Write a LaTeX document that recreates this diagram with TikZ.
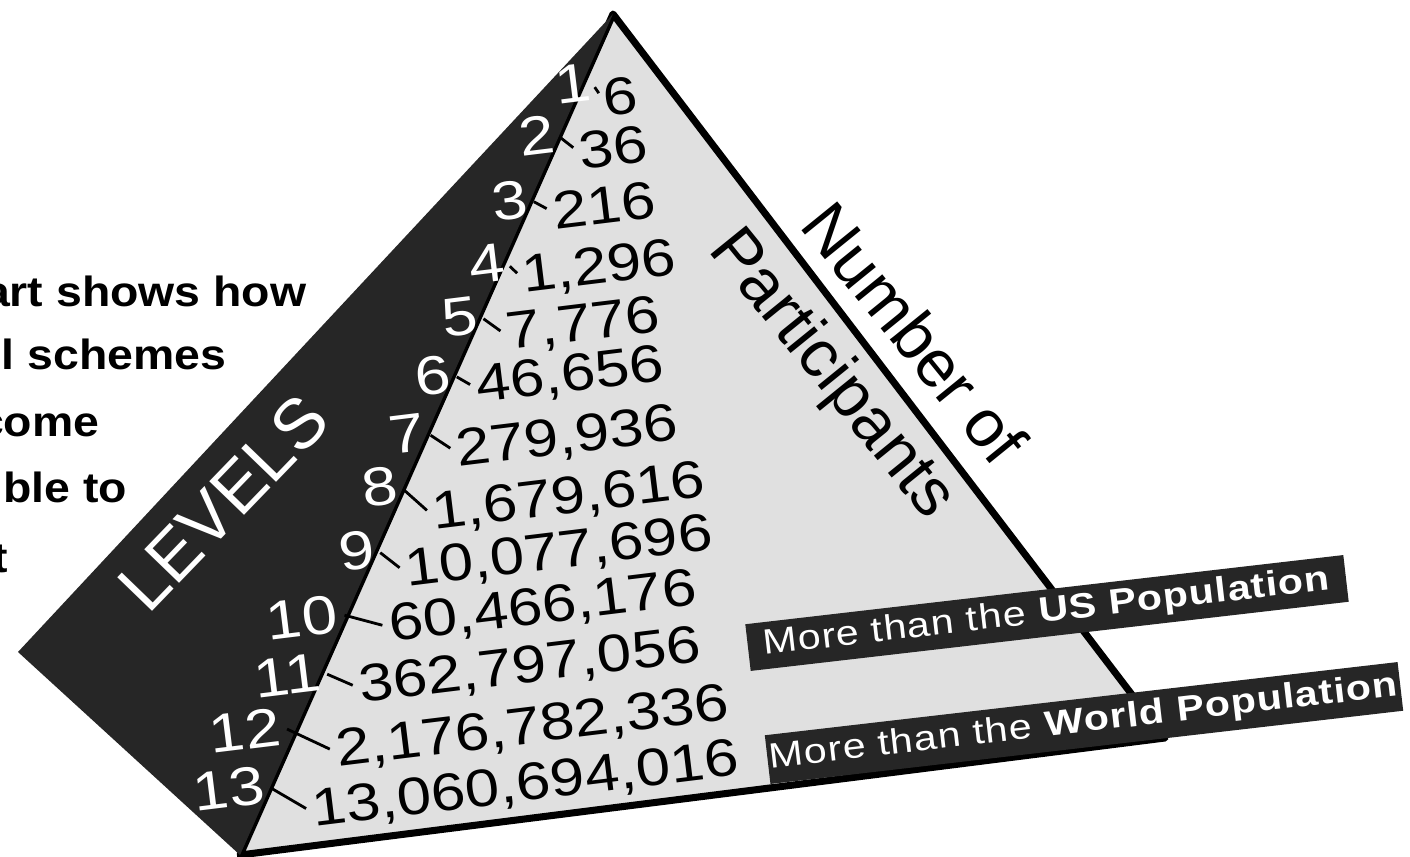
\documentclass[tikz,border=0pt]{standalone}
\usepackage{fontspec}
\setmainfont{Liberation Sans}
\newfontfamily\widefont{Liberation Sans}[FakeStretch=1.17]
\newfontfamily\notefont{Liberation Sans}[FakeStretch=1.1]
\newfontfamily\barfont{Liberation Sans}[FakeStretch=1.17, LetterSpace=3]
\usetikzlibrary{calc}
\definecolor{facedark}{gray}{0.15}
\definecolor{facelight}{gray}{0.88}

\begin{document}
\begin{tikzpicture}[
    x=0.1mm, y=-0.1mm,
    lvnum/.style={text=white, font=\widefont\fontsize{15.5}{18}\selectfont, rotate=7, anchor=base east, inner sep=0pt},
    partnum/.style={font=\widefont\fontsize{15}{18}\selectfont, rotate=7, anchor=base west, inner sep=0pt},
    tickline/.style={line width=0.8pt, shorten <=2pt, shorten >=2pt},
    banner/.style={fill=facedark, text=white, rotate=6.6, inner sep=0pt, font=\barfont\fontsize{10}{12}\selectfont},
    blurb/.style={font=\notefont\bfseries\fontsize{12}{14}\selectfont, anchor=base east, inner sep=0pt},
    axislabel/.style={font=\fontsize{19}{22}\selectfont, rotate=-51, inner sep=0pt}
]
\useasboundingbox (0,0) rectangle (1410,857);
\clip (0,0) rectangle (1410,857);
\fill[white] (0,0) rectangle (1410,857);

% caption text, cut off at the left edge
\node[blurb] (line1) at (307,307) {art shows how};
\node[blurb] (line2) at (227,370) {l schemes};
\node[blurb] (line3) at (100,437) {come};
\node[blurb] (line4) at (128,503) {ible to};
\node[blurb] (line5) at (9,572) {t};

% pyramid faces
\coordinate (apex) at (613,14);
\coordinate (lcorner) at (18,652);
\coordinate (foot) at (240,855);
\coordinate (rcorner) at (1165,738);
\filldraw[fill=facelight, line width=2pt, line join=round] (apex) -- (foot) -- (rcorner) -- cycle;
\fill[facedark] (apex) -- (lcorner) -- (foot) -- cycle;

\node[text=white, font=\fontsize{20}{24}\selectfont, rotate=46] (levels) at (223,503) {LEVELS};
\node[axislabel] (numof) at (915,333) {Number of};
\node[axislabel] (parts) at (831,375) {Participants};

% level numbers
\node[lvnum] (lv1) at (593,100) {1};
\node[lvnum] (lv2) at (557,152) {2};
\node[lvnum] (lv3) at (530,217) {3};
\node[lvnum] (lv4) at (507,280) {4};
\node[lvnum] (lv5) at (480,333) {5};
\node[lvnum] (lv6) at (453,392) {6};
\node[lvnum] (lv7) at (427,450) {7};
\node[lvnum] (lv8) at (400,503) {8};
\node[lvnum] (lv9) at (377,567) {9};
\node[lvnum] (lv10) at (340,632) {10};
\node[lvnum] (lv11) at (323,690) {11};
\node[lvnum] (lv12) at (283,745) {12};
\node[lvnum] (lv13) at (267,803) {13};

% participants per level
\node[partnum] (n1) at (605,117) {6};
\node[partnum] (n2) at (581,170) {36};
\node[partnum] (n3) at (555,230) {216};
\node[partnum] (n4) at (524,293) {1,296};
\node[partnum] (n5) at (508,350) {7,776};
\node[partnum] (n6) at (478,403) {46,656};
\node[partnum] (n7) at (458,467) {279,936};
\node[partnum] (n8) at (434,530) {1,679,616};
\node[partnum] (n9) at (407,587) {10,077,696};
\node[partnum] (n10) at (391,642) {60,466,176};
\node[partnum] (n11) at (361,703) {362,797,056};
\node[partnum] (n12) at (338,767) {2,176,782,336};
\node[partnum] (n13) at (314,827) {13,060,694,016};

\foreach \i in {1,...,13}
    \draw[tickline] (lv\i.east) -- (n\i.west);

% population markers
\node[banner, minimum width=60.2mm, minimum height=4.7mm] (usbar) at (1047,613) {More than the \textbf{US Population}};
\node[banner, minimum width=63.7mm, minimum height=4.9mm] (worldbar) at (1084,723) {More than the \textbf{World Population}};
\end{tikzpicture}
\end{document}
